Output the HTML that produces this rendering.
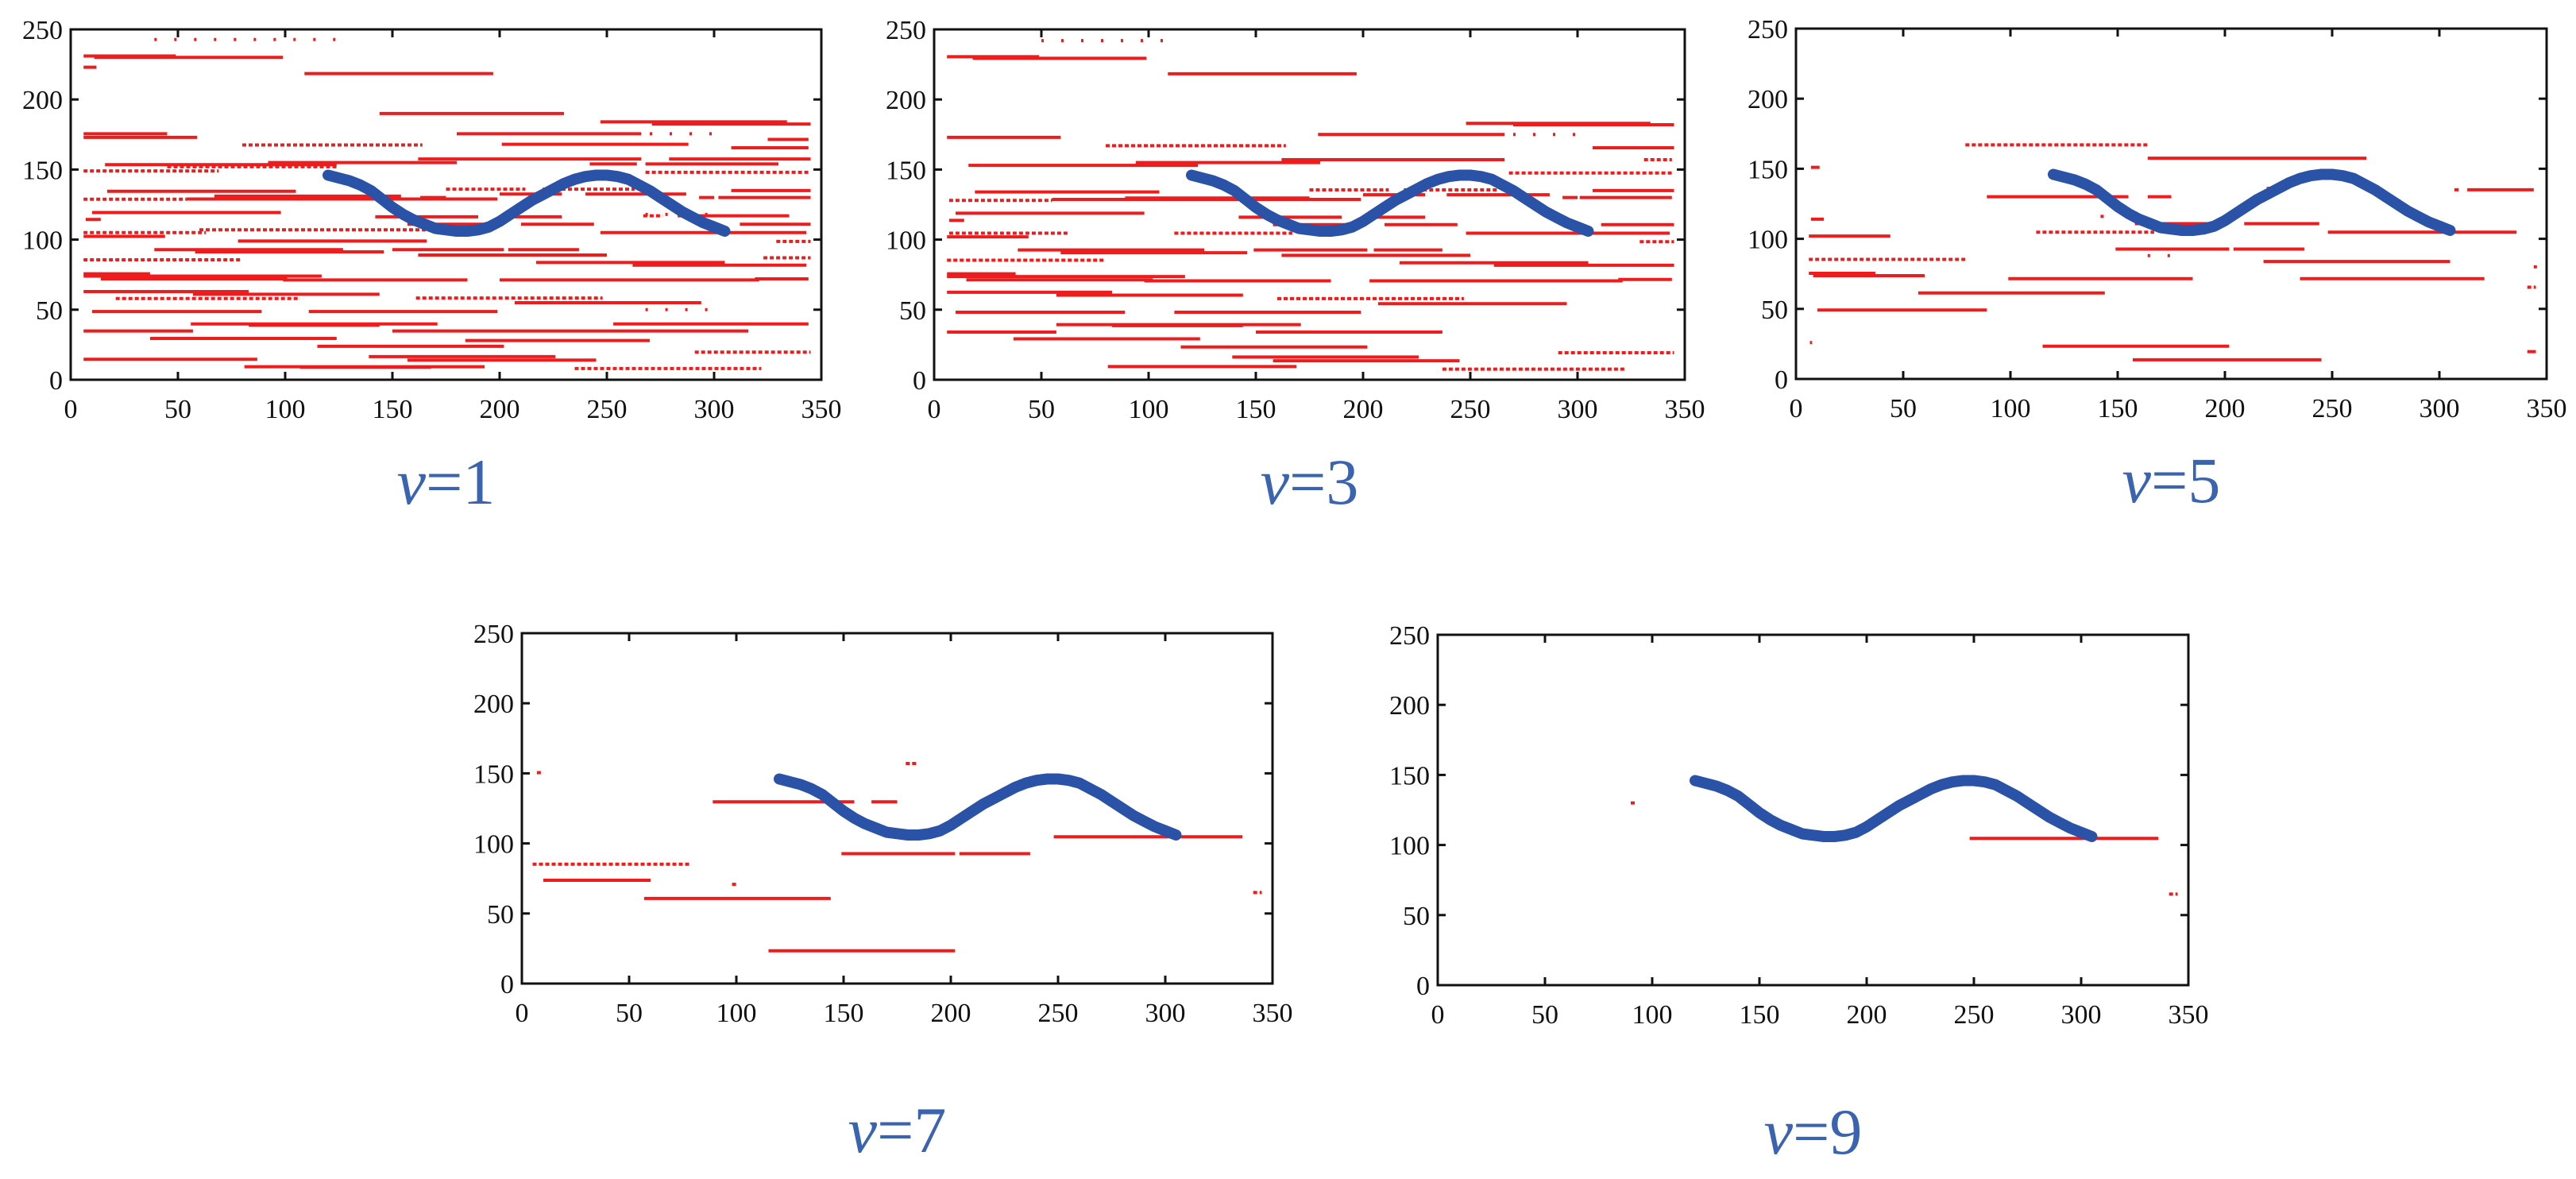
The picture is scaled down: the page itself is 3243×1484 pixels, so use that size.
<!DOCTYPE html>
<html><head><meta charset="utf-8">
<style>
html,body{margin:0;padding:0;background:#fff;}
svg{display:block;}
.tk{font-family:"Liberation Serif",serif;font-size:34px;fill:#111;}
.lab{font-family:"Liberation Serif",serif;font-size:82px;fill:#3a63b0;}
</style></head>
<body>
<svg id="fig" width="3243" height="1484" viewBox="0 0 3243 1484" xmlns="http://www.w3.org/2000/svg"></svg>
<script>
// shared tick labels
const xTicks = [0,50,100,150,200,250,300,350];
const yTicks = [0,50,100,150,200,250];
// blue trajectory
const curveX = [120,125,130,135,140,145,150,155,160,165,170,175,180,185,190,195,200,205,210,215,220,225,230,235,240,245,250,255,260,265,270,275,280,285,290,295,300,305];
const curveY = [146,144,142,139,135,129,123,118,114,111,108,107,106,106,107,109,113,118,123,128,132,136,140,143,145,146,146,145,143,139,135,130,125,120,116,112,109,106];
// red segments: [x1, x2, y, dotted(0/1/2=sparse)]
const segV1 = [[6,49,231,0],[11,99,230,0],[6,12,223,0],[109,197,218.5,0],[144,230,190,0],[247,334,184,0],[271,345,182.5,0],[6,45,175.5,0],[6,59,173,0],[180,266,175.5,0],[325,344,171.5,0],[201,288,168,0],[308,344,165.5,0],[80,164,167.5,1],[162,266,157.5,0],[279,345,157.5,0],[92,180,155,0],[16,124,153.5,0],[45,124,152,1],[242,264,154,0],[268,330,154,0],[6,69,149,1],[268,345,148,1],[17,105,134.5,0],[175,212,136,1],[220,263,136,1],[308,345,135,0],[200,229,132.5,0],[240,287,132.5,0],[67,154,131,0],[6,54,128.8,1],[54,199,129,0],[163,175,130,0],[293,300,130,0],[302,345,130,0],[10,98,119.3,0],[7,14,114.4,0],[142,190,116.3,0],[200,229,116.3,0],[267,276,117,1],[283,335,117,0],[157,193,111,0],[210,244,111,0],[312,345,111,0],[6,63,105,1],[60,168,107,1],[6,44,102.3,0],[247,343,105,0],[78,166,99,0],[329,345,98.7,1],[39,127,92.8,0],[58,146,91.3,0],[150,202,92.8,0],[204,237,92.8,0],[162,250,89,0],[6,79,85.6,1],[323,345,87,1],[217,305,83.7,0],[262,343,81.8,0],[6,37,75.6,0],[6,117,74,0],[14,101,72,0],[99,185,71.2,0],[200,321,71.2,0],[319,344,72,0],[6,83,62.9,0],[57,144,61,0],[21,107,58,1],[161,248,58.3,1],[207,294,55,0],[10,89,48.7,0],[111,199,48.7,0],[56,171,39.8,0],[83,144,39,0],[253,344,39.8,0],[6,57,34.8,0],[150,316,34.8,0],[37,124,29.5,0],[184,270,28,0],[115,202,23.9,0],[291,345,19.7,1],[139,226,16.5,0],[6,87,14.6,0],[157,245,14,0],[81,193,9.3,0],[107,168,8.9,0],[235,322,8,1],[39,126,242.8,2],[268,300,50,2],[270,300,175.5,2],[268,300,118,2]];
const segV3 = [[6,49,230.5,0],[18,99,229.4,0],[109,197,218.3,0],[248,334,183,0],[270,345,182,0],[6,59,173,0],[179,266,175,0],[80,164,167,1],[307,345,165.5,0],[162,266,157,0],[94,180,155,0],[16,123,153,0],[331,344,157,1],[268,345,147.5,1],[19,105,134,0],[175,212,135.5,1],[219,263,135.5,1],[307,345,135,0],[200,229,132,0],[239,287,132,0],[89,175,129.7,0],[7,55,128,1],[55,199,128.7,0],[293,300,130,0],[301,344,130,0],[10,98,118.8,0],[7,14,113.7,0],[142,190,116,0],[200,229,116,0],[158,201,110.7,0],[210,244,110.7,0],[311,345,110.7,0],[7,63,104.6,1],[112,167,104.6,1],[6,44,102,0],[248,343,104.6,0],[329,345,98.5,1],[39,126,92.6,0],[59,146,90.6,0],[149,202,92.6,0],[205,237,92.6,0],[162,250,88.8,0],[6,79,85.3,1],[217,305,83.5,0],[261,345,81.7,0],[6,38,75.6,0],[6,117,73.6,0],[15,102,71.3,0],[98,185,70.6,0],[203,321,70.6,0],[319,344,71.6,0],[6,83,62.4,0],[57,144,60.4,0],[160,247,57.9,1],[207,295,54.3,0],[10,89,48.2,0],[112,199,48.2,0],[57,171,39.3,0],[83,144,38.6,0],[6,57,34,0],[150,237,34,0],[37,124,29.2,0],[115,202,23.4,0],[291,345,19.3,1],[139,226,16.2,0],[158,245,13.5,0],[81,169,9.4,0],[237,322,7.6,1],[50,110,242,2],[270,300,175,2]];
const segV5 = [[79,164,167,1],[164,266,157.5,0],[7,11,151,0],[89,155,130,0],[164,175,130,0],[313,344,135,0],[7,13,114,0],[158,201,110.8,0],[209,244,110.8,0],[112,167,104.7,1],[6,44,102,0],[248,336,104.7,0],[149,202,92.7,0],[204,237,92.7,0],[6,79,85.3,1],[218,305,83.8,0],[6,37,75.4,0],[8,60,73.7,0],[99,185,71.6,0],[235,321,71.6,0],[57,144,61.4,0],[10,89,49.2,0],[115,202,23.4,0],[157,245,13.7,0],[341,345,19.5,0],[307,309,135,0],[341,345,65.5,1],[344,345.5,80,0],[6.5,7.5,26,0],[142,143.5,116,0],[219.5,221,136,0],[164,176,88,2]];
const segV7 = [[5,79,85.2,1],[10,60,73.7,0],[57,144,60.7,0],[89,155,129.7,0],[163,175,129.7,0],[149,202,92.7,0],[204,237,92.7,0],[248,336,104.7,0],[115,202,23.4,0],[7,10,150.5,1],[179,184,157,1],[98,100,70.8,1],[341,345,65,1]];
const segV9 = [[248,336,104.7,0],[90,92,130,1],[341,345,65,1]];

const panels = [
  {name:'v1',L:89,T:37,segs:segV1,num:'1',labY:634},
  {name:'v3',L:1176,T:37,segs:segV3,num:'3',labY:634},
  {name:'v5',L:2261,T:36,segs:segV5,num:'5',labY:632},
  {name:'v7',L:657,T:797,segs:segV7,num:'7',labY:1450},
  {name:'v9',L:1810,T:799,segs:segV9,num:'9',labY:1452}
];
const W=945,H=441,NS='http://www.w3.org/2000/svg';
const svg=document.getElementById('fig');
function mk(tag,attrs,parent){const e=document.createElementNS(NS,tag);for(const k in attrs)e.setAttribute(k,attrs[k]);(parent||svg).appendChild(e);return e;}

panels.forEach(p=>{
  const sx=v=>p.L+v/350*W, sy=v=>p.T+H-v/250*H;
  const g=mk('g',{});
  
  
  // red segments
  p.segs.forEach(s=>{
    const a={x1:sx(s[0]),x2:sx(s[1]),y1:sy(s[2]),y2:sy(s[2]),stroke:'#ee1c1c','stroke-width':4};
    if(s[3]===1)a['stroke-dasharray']='5 3';
    if(s[3]===2)a['stroke-dasharray']='3 22';
    const l=mk('line',a,g);
    
    
  });
  // blue trajectory
  const pts=curveX.map((x,i)=>sx(x).toFixed(1)+','+sy(curveY[i]).toFixed(1)).join(' ');
  const pl=mk('polyline',{points:pts,fill:'none',stroke:'#2a52a6','stroke-width':14,'stroke-linejoin':'round','stroke-linecap':'round'},g);
  
  
  // frame
  const fr=mk('rect',{x:p.L,y:p.T,width:W,height:H,fill:'none',stroke:'#111','stroke-width':3},g);
  
  
  xTicks.forEach(t=>{
    const x=sx(t);
    mk('line',{x1:x,x2:x,y1:p.T+H,y2:p.T+H-10,stroke:'#111','stroke-width':3},g);
    mk('line',{x1:x,x2:x,y1:p.T,y2:p.T+10,stroke:'#111','stroke-width':3},g);
    const tx=mk('text',{x:x,y:p.T+H+48,'text-anchor':'middle',class:'tk'},g);
    tx.textContent=t;
    
    
  });
  yTicks.forEach(t=>{
    const y=sy(t);
    mk('line',{x1:p.L,x2:p.L+10,y1:y,y2:y,stroke:'#111','stroke-width':3},g);
    mk('line',{x1:p.L+W,x2:p.L+W-10,y1:y,y2:y,stroke:'#111','stroke-width':3},g);
    const ty=mk('text',{x:p.L-10,y:y+12,'text-anchor':'end',class:'tk'},g);
    ty.textContent=t;
    
    
  });
  const lab=mk('text',{x:p.L+W/2,y:p.labY,'text-anchor':'middle',class:'lab'},g);
  
  
  const ts=mk('tspan',{'font-style':'italic'},lab);ts.textContent='v';
  const t2=mk('tspan',{},lab);t2.textContent='='+p.num;
});
</script>
</body></html>
